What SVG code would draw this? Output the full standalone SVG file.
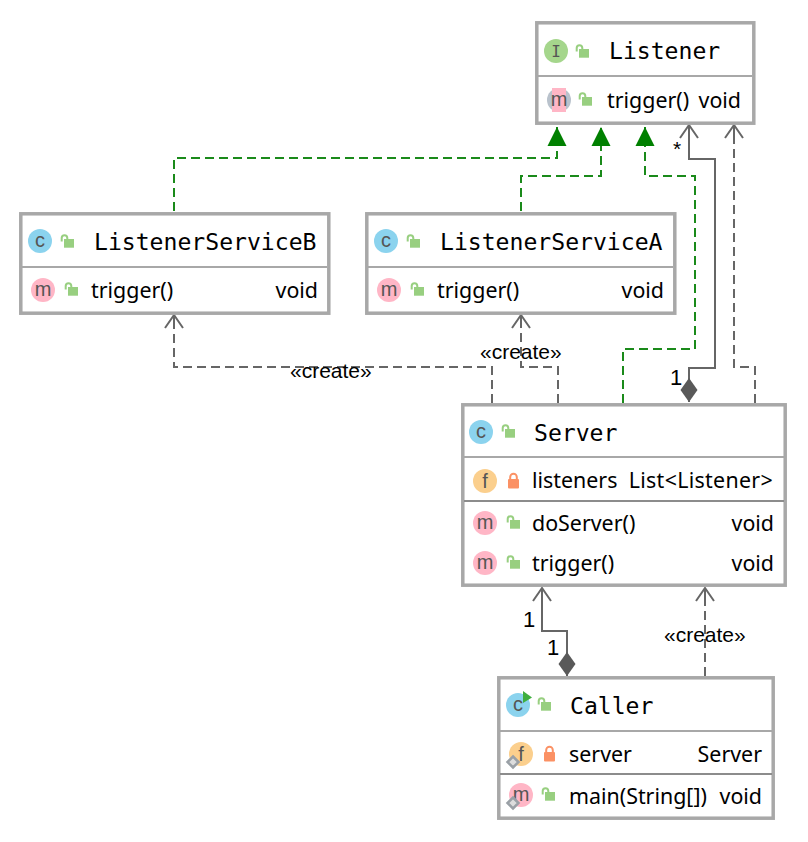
<svg xmlns="http://www.w3.org/2000/svg" xmlns:xlink="http://www.w3.org/1999/xlink" width="808" height="842" viewBox="0 0 808 842">
<style>
.box{fill:#fff;stroke:#a8a8a8;stroke-width:3.5}
.div{stroke:#a8a8a8;stroke-width:2}
.div2{stroke:#8c8c8c;stroke-width:2}
.t{font-family:"DejaVu Sans Mono","Liberation Mono",monospace;font-size:23.1px;fill:#000}
.b{font-family:"Noto Sans","Open Sans",sans-serif;font-size:21.4px;fill:#000}
.e{text-anchor:end}
.l{font-family:"Liberation Sans",Arial,sans-serif;font-size:21px;fill:#000}
.n{font-family:"Liberation Sans",Arial,sans-serif;font-size:22px;fill:#000}
.ic{font-family:"Liberation Sans",Arial,sans-serif;font-size:20px;fill:#555;text-anchor:middle}
.im{font-family:"DejaVu Sans Mono",monospace;font-size:16px;fill:#555;text-anchor:middle}
.cc{fill:#8bd3ee}.cm{fill:#ffb6c6}.cf{fill:#fbcf8d}.ci{fill:#a5d68c}
.g{fill:none;stroke:#1a8a1a;stroke-width:2;stroke-dasharray:9 5}
.d{fill:none;stroke:#666;stroke-width:2;stroke-dasharray:9 5}
.s{fill:none;stroke:#666;stroke-width:2}
</style>
<defs>
<marker id="open" markerUnits="userSpaceOnUse" orient="auto" overflow="visible" markerWidth="20" markerHeight="20"><path d="M-13,-9 L0,0 L-13,9 M-13,0H0" fill="none" stroke="#666" stroke-width="2"/></marker>
<marker id="tri" markerUnits="userSpaceOnUse" orient="auto" overflow="visible" markerWidth="20" markerHeight="20"><path d="M-19,-9.5 L0,0 L-19,9.5 Z" fill="#008000"/></marker>
<marker id="dia" markerUnits="userSpaceOnUse" orient="auto" overflow="visible" markerWidth="30" markerHeight="20"><path d="M0,0 L12,-8.5 L24,0 L12,8.5 Z" fill="#595959"/></marker>
<g id="pub"><rect x="-3" y="-4" width="10" height="8.7" fill="#98cf80"/><path d="M-5.3,-1.5 V-4.9 A2.8,2.8 0 0 1 0.3,-4.9 V-4" fill="none" stroke="#98cf80" stroke-width="2"/></g>
<g id="pri"><rect x="-5" y="-2" width="11" height="9.5" rx="1" fill="#fb9164"/><path d="M-2.8,-2 V-4 A3.3,3.3 0 0 1 3.8,-4 V-2" fill="none" stroke="#fb9164" stroke-width="2"/></g>
<path id="st" d="M0,-5.5 L5.5,0 L0,5.5 L-5.5,0 Z" fill="#ddd" stroke="#9aa0a6" stroke-width="2.5"/>
</defs>

<g id="connectors">
<polyline class="g" marker-end="url(#tri)" points="174,211 174,158 557,158 557,127"/>
<polyline class="g" marker-end="url(#tri)" points="521,211 521,176 601,176 601,127"/>
<polyline class="g" marker-end="url(#tri)" points="623,403 623,349 695,349 695,176 645,176 645,127"/>
<polyline class="s" marker-start="url(#dia)" marker-end="url(#open)" points="689,402 689,368 715,368 715,159 689,159 689,125"/>
<polyline class="d" marker-end="url(#open)" points="755,403 755,367 734,367 734,125"/>
<polyline class="d" marker-end="url(#open)" points="492,403 492,367 174,367 174,315"/>
<polyline class="d" marker-end="url(#open)" points="558,403 558,367 521,367 521,315"/>
<polyline class="s" marker-start="url(#dia)" marker-end="url(#open)" points="567,676 567,631 542,631 542,588"/>
<polyline class="d" marker-end="url(#open)" points="705,676 705,588"/>
<text class="l" x="290" y="378">«create»</text>
<text class="l" x="480" y="359">«create»</text>
<text class="l" x="664" y="642">«create»</text>
<text class="l" x="673" y="156">*</text>
<text class="n" x="670" y="385">1</text>
<text class="n" x="523" y="627">1</text>
<text class="n" x="547" y="655">1</text>
</g>

<g id="Listener">
<rect class="box" x="536.8" y="22.8" width="217" height="100.4"/>
<line class="div" x1="538" y1="76" x2="752" y2="76"/>
<circle class="ci" cx="556" cy="51" r="12"/><text class="im" x="556" y="57">I</text>
<use href="#pub" x="582" y="53"/>
<text class="t" x="609" y="59">Listener</text>
<circle fill="#b9c2cc" cx="559" cy="100" r="12"/><rect class="cm" x="552" y="88" width="14" height="24"/><text class="ic" x="559" y="106">m</text>
<use href="#pub" x="585" y="101"/>
<text class="b" x="607" y="108">trigger()</text>
<text class="b e" x="741" y="108">void</text>
</g>

<g id="ListenerServiceB">
<rect class="box" x="20.8" y="213.8" width="308" height="99.4"/>
<line class="div" x1="22" y1="267" x2="327" y2="267"/>
<circle class="cc" cx="40" cy="241" r="12"/><text class="ic" x="40" y="247">c</text>
<use href="#pub" x="67" y="243"/>
<text class="t" x="94" y="250">ListenerServiceB</text>
<circle class="cm" cx="43" cy="290" r="12"/><text class="ic" x="43" y="296">m</text>
<use href="#pub" x="71" y="291"/>
<text class="b" x="91" y="298">trigger()</text>
<text class="b e" x="318" y="298">void</text>
</g>

<g id="ListenerServiceA">
<rect class="box" x="366.8" y="213.8" width="308" height="99.4"/>
<line class="div" x1="368" y1="267" x2="673" y2="267"/>
<circle class="cc" cx="386" cy="241" r="12"/><text class="ic" x="386" y="247">c</text>
<use href="#pub" x="413" y="243"/>
<text class="t" x="440" y="250">ListenerServiceA</text>
<circle class="cm" cx="389" cy="290" r="12"/><text class="ic" x="389" y="296">m</text>
<use href="#pub" x="417" y="291"/>
<text class="b" x="437" y="298">trigger()</text>
<text class="b e" x="664" y="298">void</text>
</g>

<g id="Server">
<rect class="box" x="462.8" y="404.8" width="322.4" height="180.4"/>
<line class="div" x1="464" y1="457" x2="784" y2="457"/>
<line class="div2" x1="464" y1="501" x2="784" y2="501"/>
<circle class="cc" cx="481" cy="432" r="12"/><text class="ic" x="481" y="438">c</text>
<use href="#pub" x="508" y="433"/>
<text class="t" x="534" y="441">Server</text>
<circle class="cf" cx="485" cy="481" r="12"/><text class="ic" x="485" y="488">f</text>
<use href="#pri" x="513" y="481"/>
<text class="b" x="532" y="488">listeners</text>
<text class="b e" x="773" y="488" letter-spacing="0.3">List&lt;Listener&gt;</text>
<circle class="cm" cx="485" cy="523" r="12"/><text class="ic" x="485" y="529">m</text>
<use href="#pub" x="513" y="524"/>
<text class="b" x="532" y="531">doServer()</text>
<text class="b e" x="774" y="531">void</text>
<circle class="cm" cx="485" cy="563" r="12"/><text class="ic" x="485" y="569">m</text>
<use href="#pub" x="513" y="564"/>
<text class="b" x="532" y="571">trigger()</text>
<text class="b e" x="774" y="571">void</text>
</g>

<g id="Caller">
<rect class="box" x="498.8" y="677.8" width="274.4" height="140.4"/>
<line class="div" x1="500" y1="731" x2="772" y2="731"/>
<line class="div2" x1="500" y1="774" x2="772" y2="774"/>
<circle class="cc" cx="518" cy="705" r="12"/><text class="ic" x="518" y="711">c</text>
<path d="M523,691 L532,697.5 L523,703 Z" fill="#3fae3f"/>
<use href="#pub" x="544" y="706"/>
<text class="t" x="570" y="714">Caller</text>
<circle class="cf" cx="521" cy="754" r="12"/><text class="ic" x="521" y="761">f</text>
<use href="#st" x="513" y="762"/>
<use href="#pri" x="549" y="754"/>
<text class="b" x="569" y="762">server</text>
<text class="b e" x="762" y="762">Server</text>
<circle class="cm" cx="521" cy="795" r="12"/><text class="ic" x="521" y="801">m</text>
<use href="#st" x="513" y="803"/>
<use href="#pub" x="548" y="796"/>
<text class="b" x="569" y="804">main(String[])</text>
<text class="b e" x="762" y="804">void</text>
</g>
</svg>
